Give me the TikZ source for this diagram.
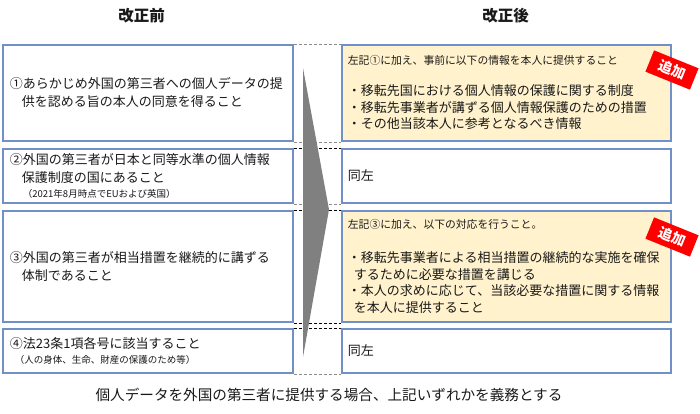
\documentclass[tikz,border=0pt]{standalone}
\usepackage{fontspec}
\setmainfont{Noto Sans CJK JP}
\usetikzlibrary{positioning}
\definecolor{boxblue}{RGB}{114,144,200}
\definecolor{paleyellow}{RGB}{255,242,204}
\definecolor{stampred}{RGB}{255,0,0}
\definecolor{inkgray}{RGB}{25,25,25}
\definecolor{arrowgray}{RGB}{128,128,128}
\tikzset{
  oldbox/.style={
    draw=boxblue,
    line width=1.8pt,
    fill=white,
    anchor=north west,
    align=left,
    text width=276pt,
    inner xsep=7pt,
    inner ysep=0pt,
    text=inkgray,
    font=\fontsize{13}{18}\selectfont
  },
  newbox/.style={
    oldbox,
    text width=317pt,
    inner xsep=6pt,
    font=\fontsize{13}{16.5}\selectfont
  },
  addbox/.style={
    newbox,
    fill=paleyellow
  },
  stamp/.style={
    fill=stampred,
    text=white,
    minimum width=48pt,
    minimum height=23pt,
    inner sep=0pt,
    font=\fontsize{14}{14}\selectfont\bfseries
  },
  heading/.style={
    text=inkgray,
    font=\fontsize{15.5}{16}\selectfont\bfseries
  },
  guide/.style={
    densely dashed,
    line width=.6pt
  }
}
\newcommand{\sidenote}[1]{{\fontsize{9.5}{11}\selectfont #1}}
\newcommand{\lead}[1]{{\fontsize{10.8}{13}\selectfont #1}}

\begin{document}
\begin{tikzpicture}[x=1pt,y=-1pt]
\useasboundingbox (0,0) rectangle (700,413);
% titles
\node[heading] (mae) at (141.5,16) {改正前};
\node[heading] (ato) at (505.5,16) {改正後};
% before
\node[oldbox,minimum height=96pt] (l1) at (2,44) {①あらかじめ外国の第三者への個人データの提\\\hspace*{12pt}供を認める旨の本人の同意を得ること};
\node[oldbox,minimum height=54pt] (l2) at (2,148) {②外国の第三者が日本と同等水準の個人情報\\\hspace*{12pt}保護制度の国にあること\\[-3pt]\hspace*{13pt}\sidenote{（2021年8月時点でEUおよび英国）}};
\node[oldbox,minimum height=111pt] (l3) at (2,210) {③外国の第三者が相当措置を継続的に講ずる\\\hspace*{12pt}体制であること};
\node[oldbox,minimum height=44pt] (l4) at (2,328) {④法23条1項各号に該当すること\\[-3pt]\hspace*{5pt}\sidenote{（人の身体、生命、財産の保護のため等）}};
% after
\node[addbox,minimum height=96pt] (r1) at (341,44) {\lead{左記①に加え、事前に以下の情報を本人に提供すること}\\[14.5pt]・移転先国における個人情報の保護に関する制度\\・移転先事業者が講ずる個人情報保護のための措置\\・その他当該本人に参考となるべき情報};
\node[newbox,minimum height=54pt] (r2) at (341,148) {同左};
\node[addbox,minimum height=111pt] (r3) at (341,210) {\lead{左記③に加え、以下の対応を行うこと。}\\[18pt]・移転先事業者による相当措置の継続的な実施を確保\\\hspace*{6pt}するために必要な措置を講じる\\・本人の求めに応じて、当該必要な措置に関する情報\\\hspace*{6pt}を本人に提供すること};
\node[newbox,minimum height=44pt] (r4) at (341,328) {同左};
% guides
\draw[guide,black!45] (l1.north east) -- (r1.north west);
\draw[guide,black!45] (l1.south east) -- (r1.south west);
\draw[guide] (l2.north east) -- (r2.north west);
\draw[guide,black!45] (l2.south east) -- (r2.south west);
\draw[guide] (l3.north east) -- (r3.north west);
\draw[guide] (l3.south east) -- (r3.south west);
\draw[guide] (l4.north east) -- (r4.north west);
\draw[guide,black!45] (l4.south east) -- (r4.south west);
% arrow
\coordinate (arrtop) at (303,68);
\coordinate (arrtip) at (329,209.5);
\coordinate (arrbot) at (303,357);
\fill[arrowgray] (arrtop) -- (arrtip) -- (arrbot) -- cycle;
% stamps
\node[stamp,rotate=-22] (add1) at (672,70) {追加};
\node[stamp,rotate=-22] (add3) at (672,237) {追加};
\node[text=inkgray,font=\fontsize{14.6}{16}\selectfont] (summary) at (329,395) {個人データを外国の第三者に提供する場合、上記いずれかを義務とする};
\end{tikzpicture}
\end{document}
